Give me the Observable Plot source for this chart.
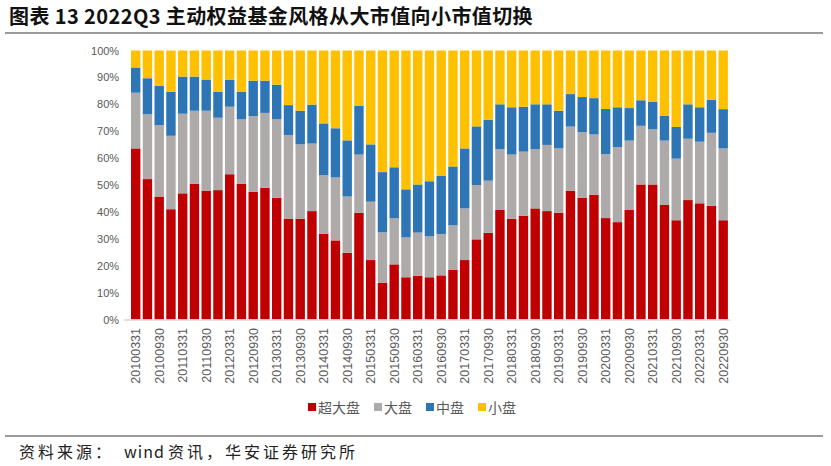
<!DOCTYPE html>
<html><head><meta charset="utf-8">
<script src="https://cdn.jsdelivr.net/npm/d3@7"></script>
<script src="https://cdn.jsdelivr.net/npm/@observablehq/plot@0.6"></script>
<style>
body{margin:0;background:#fff;font-family:"Noto Sans CJK SC","Liberation Sans",sans-serif;}
#wrap{position:relative;width:831px;height:466px;overflow:hidden;background:#fff}
#title{position:absolute;left:9px;top:1px;font-size:20px;font-weight:bold;color:#111;white-space:nowrap;letter-spacing:0.4px}
.rule{position:absolute;left:5px;width:818px;height:2px;background:#9a9a9a}
#chart{position:absolute;left:0;top:40px}
#legend{position:absolute;top:397px;left:212px;width:400px;display:flex;justify-content:center;gap:14px;font-size:14px;color:#595959;white-space:nowrap}
#legend span.item{display:flex;align-items:center}
#legend i{display:inline-block;width:8px;height:8px;margin-right:2px}
#source{position:absolute;left:19px;top:439px;font-size:16px;color:#222;white-space:pre;letter-spacing:3px}
#source .w{margin-left:10px;letter-spacing:1px;margin-right:3px}
</style></head>
<body>
<div id="wrap">
  <div id="title">图表 13 2022Q3 主动权益基金风格从大市值向小市值切换</div>
  <div class="rule" style="top:32px"></div>
  <div id="chart"></div>
  <div id="legend"></div>
  <div class="rule" style="top:435px"></div>
  <div id="source">资料来源：<span class="w">wind</span>资讯，华安证券研究所</div>
</div>
<script>
const dates = [
  "20100331","20100630","20100930","20101231",
  "20110331","20110630","20110930","20111231",
  "20120331","20120630","20120930","20121231",
  "20130331","20130630","20130930","20131231",
  "20140331","20140630","20140930","20141231",
  "20150331","20150630","20150930","20151231",
  "20160331","20160630","20160930","20161231",
  "20170331","20170630","20170930","20171231",
  "20180331","20180630","20180930","20181231",
  "20190331","20190630","20190930","20191231",
  "20200331","20200630","20200930","20201231",
  "20210331","20210630","20210930","20211231",
  "20220331","20220630","20220930"
];
const seriesNames = ["超大盘","大盘","中盘","小盘"];
const seriesColors = ["#C00000","#AEAAAA","#2E75B6","#FFC000"];
const superLarge = [63.6,52.2,45.7,41.0,46.9,50.5,47.9,48.1,54.0,50.5,47.5,49.0,45.2,37.5,37.5,40.3,31.8,29.4,24.8,39.7,22.1,13.7,20.5,15.7,16.3,15.7,16.4,18.4,22.1,29.8,32.2,40.7,37.4,38.6,41.3,40.3,39.7,47.9,45.3,46.4,37.7,36.2,40.7,50.2,50.2,42.7,36.9,44.4,43.2,42.3,36.9];
const large = [20.7,24.1,26.5,27.3,29.6,27.1,29.7,26.9,25.1,23.9,28.1,27.8,29.2,31.1,27.6,25.1,21.9,23.4,20.9,21.6,21.7,18.7,17.1,14.8,16.0,15.2,15.4,16.6,19.2,20.2,19.4,22.6,23.9,23.8,22.0,24.6,23.9,23.8,24.4,22.4,23.8,27.9,25.8,21.8,20.5,23.8,22.9,22.8,22.9,27.1,26.7];
const mid = [9.4,13.4,14.6,16.3,13.8,12.7,11.6,9.6,10.1,10.3,13.2,12.0,12.9,11.1,12.5,14.5,19.2,18.3,20.9,18.1,21.3,22.4,19.0,17.9,17.9,20.5,21.7,21.9,22.3,21.8,22.6,16.7,17.6,16.7,16.7,15.1,14.0,12.1,13.0,13.5,16.8,14.8,12.1,9.5,10.3,9.3,11.8,12.8,12.8,12.3,14.6];
const small = [6.3,10.3,13.2,15.4,9.7,9.7,10.8,15.4,10.8,15.3,11.2,11.2,12.7,20.3,22.4,20.1,27.1,28.9,33.4,20.6,34.9,45.2,43.4,51.6,49.8,48.6,46.5,43.1,36.4,28.2,25.8,20.0,21.1,20.9,20.0,20.0,22.4,16.2,17.3,17.7,21.7,21.1,21.4,18.5,19.0,24.2,28.4,20.0,21.1,18.3,21.8];
const yTicks = [0,10,20,30,40,50,60,70,80,90,100];
const xTickLabels = dates.filter((d,i) => i % 2 === 0);

const seriesValues = [superLarge, large, mid, small];
const rows = [];
dates.forEach((d,i) => {
  seriesNames.forEach((s,k) => rows.push({date:d, series:s, value:seriesValues[k][i]}));
});

const chart = Plot.plot({
  width: 831,
  height: 360,
  marginTop: 10.5,
  marginBottom: 80.5,
  marginLeft: 128.65,
  marginRight: 100.75,
  style: {fontFamily: "'Liberation Sans', sans-serif", color: "#595959", background: "#fff"},
  x: {domain: dates, padding: 0.2, axis: null, label: null},
  y: {domain: [0,100], axis: null, label: null},
  color: {domain: seriesNames, range: seriesColors},
  marks: [
    Plot.barY(rows, {x: "date", y: "value", fill: "series", order: seriesNames}),
    Plot.ruleY([0], {stroke: "#d9d9d9", strokeWidth: 1.5, insetLeft: -5}),
    Plot.axisY({ticks: yTicks, tickFormat: d => d + "%", tickSize: 0, tickPadding: 10, fontSize: 11, label: null}),
    Plot.axisX({ticks: xTickLabels, tickRotate: -90, tickSize: 0, tickPadding: 8, fontSize: 12.5, label: null})
  ]
});
document.getElementById("chart").appendChild(chart);

const legend = document.getElementById("legend");
seriesNames.forEach((s,k) => {
  const it = document.createElement("span");
  it.className = "item";
  const sw = document.createElement("i");
  sw.style.background = seriesColors[k];
  it.appendChild(sw);
  it.appendChild(document.createTextNode(s));
  legend.appendChild(it);
});
</script>
</body></html>
